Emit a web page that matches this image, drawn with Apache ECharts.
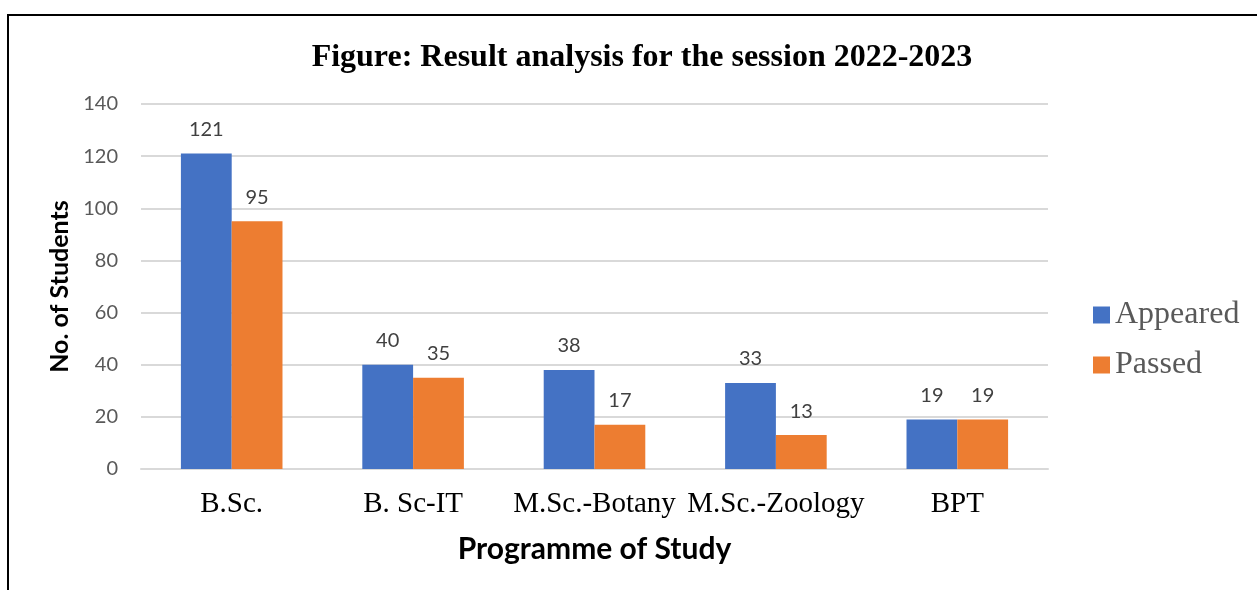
<!DOCTYPE html>
<html><head><meta charset="utf-8">
<script src="https://cdn.jsdelivr.net/npm/echarts@6/dist/echarts.min.js"></script>
<style>html,body{margin:0;padding:0;background:#fff}#c{width:1257px;height:590px}</style>
</head><body><div id="c"></div>
<script>
const categories = ['B.Sc.', 'B. Sc-IT', 'M.Sc.-Botany', 'M.Sc.-Zoology', 'BPT'];
const appeared = [121, 40, 38, 33, 19];
const passed = [95, 35, 17, 13, 19];
const yTicks = { min: 0, max: 140, interval: 20 };

const chart = echarts.init(document.getElementById('c'));
const labelStyle = { show: true, position: 'top', distance: 14, color: '#404040', fontSize: 20, fontFamily: 'Lato, "Open Sans", sans-serif' };
chart.setOption({
  animation: false,
  title: {
    text: 'Figure: Result analysis for the session 2022-2023',
    left: 637, top: 37, textAlign: 'center',
    textStyle: { fontFamily: '"Liberation Serif", "Times New Roman", serif', fontWeight: 'bold', fontSize: 32, color: '#000' }
  },
  legend: {
    orient: 'vertical', left: 1088, top: 294, itemGap: 18,
    itemWidth: 17, itemHeight: 17, icon: 'rect',
    textStyle: { fontFamily: '"Liberation Serif", serif', fontSize: 32, color: '#595959' },
    data: ['Appeared', 'Passed']
  },
  grid: { left: 141, right: 209, top: 104, bottom: 121, containLabel: false },
  xAxis: {
    type: 'category', data: categories,
    axisLine: { lineStyle: { color: '#d9d9d9', width: 2 } },
    axisTick: { show: false },
    axisLabel: { margin: 21, fontFamily: '"Liberation Serif", serif', fontSize: 29, color: '#000', interval: 0 },
    name: 'Programme of Study', nameLocation: 'middle', nameGap: 65,
    nameTextStyle: { fontFamily: 'Lato, "Open Sans", sans-serif', fontWeight: 'bold', fontSize: 30, color: '#000' }
  },
  yAxis: {
    type: 'value', min: yTicks.min, max: yTicks.max, interval: yTicks.interval,
    axisLine: { show: false }, axisTick: { show: false },
    splitLine: { lineStyle: { color: '#d9d9d9', width: 2 } },
    axisLabel: { margin: 23, fontFamily: 'Lato, "Open Sans", sans-serif', fontSize: 20, color: '#595959' },
    name: 'No. of Students', nameLocation: 'middle', nameGap: 68, nameRotate: 90,
    nameTextStyle: { fontFamily: 'Lato, "Open Sans", sans-serif', fontWeight: 'bold', fontSize: 25, color: '#000' }
  },
  series: [
    { name: 'Appeared', type: 'bar', data: appeared, barGap: '0%', barCategoryGap: '44%', itemStyle: { color: '#4472c4' }, label: labelStyle },
    { name: 'Passed', type: 'bar', data: passed, itemStyle: { color: '#ed7d31' }, label: labelStyle }
  ],
  graphic: [
    { type: 'polyline', shape: { points: [[8, 590], [8, 15], [1257, 15]] }, style: { stroke: '#000', lineWidth: 2, fill: null } }
  ]
});
</script></body></html>
